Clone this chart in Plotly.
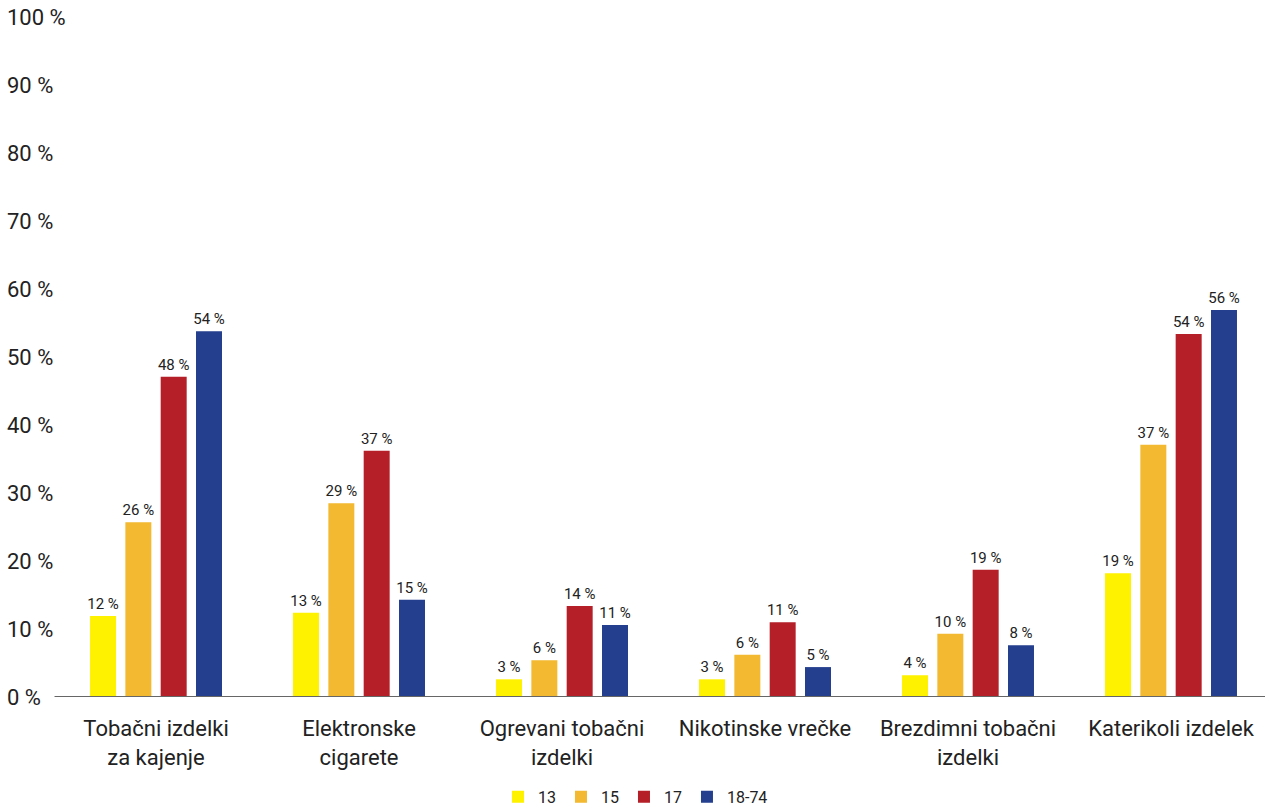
import plotly.graph_objects as go

categories = ["Tobačni izdelki<br>za kajenje", "Elektronske<br>cigarete", "Ogrevani tobačni<br>izdelki",
              "Nikotinske vrečke", "Brezdimni tobačni<br>izdelki", "Katerikoli izdelek"]
series_names = ["13", "15", "17", "18-74"]
colors = ["#FFF200", "#F2B931", "#B41F28", "#233F8E"]

vals_13 = [11.9, 12.4, 2.6, 2.6, 3.2, 18.2]
vals_15 = [25.7, 28.5, 5.4, 6.2, 9.3, 37.1]
vals_17 = [47.1, 36.2, 13.4, 11.0, 18.7, 53.4]
vals_1874 = [53.8, 14.3, 10.6, 4.4, 7.6, 56.9]

lab_13 = [12, 13, 3, 3, 4, 19]
lab_15 = [26, 29, 6, 6, 10, 37]
lab_17 = [48, 37, 14, 11, 19, 54]
lab_1874 = [54, 15, 11, 5, 8, 56]

values = [vals_13, vals_15, vals_17, vals_1874]
labels = [lab_13, lab_15, lab_17, lab_1874]

FONT = "Roboto"
TXT = "#222222"

fig = go.Figure()
for name, col, v, lab in zip(series_names, colors, values, labels):
    fig.add_trace(go.Bar(
        x=categories, y=v, name=name, marker=dict(color=col, line=dict(width=0)),
        text=[f"{t} %" for t in lab], textposition="outside", constraintext="none",
        textfont=dict(family=FONT, size=15, color=TXT), cliponaxis=False,
        hoverinfo="skip",
    ))

fig.add_shape(type="line", xref="x", yref="y", x0=-0.5, x1=5.463, y0=0, y1=0,
              line=dict(color="#666666", width=2), layer="above")

fig.update_layout(
    width=1271, height=809,
    margin=dict(l=6, r=6, t=17, b=112, autoexpand=False),
    paper_bgcolor="white", plot_bgcolor="white",
    barmode="group", bargap=0.304, bargroupgap=0.264,
    font=dict(family=FONT, color=TXT),
    showlegend=True,
    legend=dict(orientation="h", x=0.5, xanchor="center", yref="container", y=0.015,
                yanchor="middle", font=dict(family=FONT, size=16, color=TXT),
                traceorder="normal"),
    xaxis=dict(type="category", range=[-0.739, 5.463], showline=False, showgrid=False,
               zeroline=False, ticks="outside", ticklen=12, tickcolor="rgba(0,0,0,0)",
               automargin=False, tickfont=dict(family=FONT, size=22, color=TXT)),
    yaxis=dict(range=[0, 100], dtick=10, ticksuffix=" %", showgrid=False, zeroline=False,
               showline=False, ticks="", side="right", anchor="free", position=0,
               automargin=False, tickfont=dict(family=FONT, size=22, color=TXT)),
)

fig.write_html("out.html")
